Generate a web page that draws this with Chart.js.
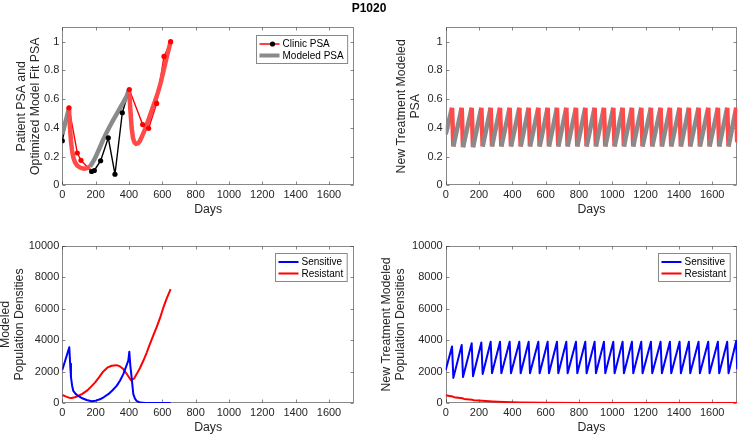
<!DOCTYPE html>
<html><head><meta charset="utf-8">
<script src="https://cdn.jsdelivr.net/npm/chart.js@4"></script>
<style>
body{margin:0;background:#fff;width:738px;height:435px;overflow:hidden;position:relative;font-family:"Liberation Sans",Arial,Helvetica,sans-serif}
#title{position:absolute;left:0;width:738px;top:1px;text-align:center;font-weight:bold;font-size:12px;line-height:14px;color:#000;z-index:5}
.cv{position:absolute}
</style></head><body>
<div id="title">P1020</div>
<canvas class="cv" id="c1" width="369" height="218" style="left:0;top:0"></canvas>
<canvas class="cv" id="c2" width="369" height="218" style="left:369px;top:0"></canvas>
<canvas class="cv" id="c3" width="369" height="217" style="left:0;top:218px"></canvas>
<canvas class="cv" id="c4" width="369" height="217" style="left:369px;top:218px"></canvas>
<script>
// ---------- DATA ----------
// Top-left: clinic PSA measurements
const clinicDays = [0, 40, 90, 112, 176, 192, 230, 276, 316, 360, 402, 482, 518, 566, 610, 650];
const clinicPSA  = [0.31, 0.54, 0.225, 0.174, 0.096, 0.103, 0.171, 0.331, 0.077, 0.505, 0.667, 0.423, 0.397, 0.570, 0.897, 1.0];
const clinicOnTreatment = [0, 1, 1, 1, 0, 0, 0, 0, 0, 0, 1, 1, 1, 1, 1, 1];
// Top-left: modeled PSA fit
const modelDays = [0, 10, 20, 30, 40, 46, 52, 58, 66, 76, 90, 106, 120, 136, 150, 166, 176, 190, 206, 226, 246, 266, 286, 306, 326, 346, 366, 386, 400, 404, 410, 416, 424, 432, 442, 454, 466, 480, 496, 512, 526, 542, 556, 572, 586, 606, 626, 650];
const modelPSA  = [0.355, 0.40, 0.445, 0.49, 0.54, 0.40, 0.31, 0.245, 0.195, 0.16, 0.137, 0.124, 0.118, 0.116, 0.12, 0.13, 0.148, 0.175, 0.213, 0.265, 0.319, 0.368, 0.413, 0.455, 0.495, 0.537, 0.577, 0.62, 0.665, 0.60, 0.50, 0.40, 0.33, 0.30, 0.288, 0.292, 0.31, 0.345, 0.39, 0.44, 0.485, 0.54, 0.585, 0.64, 0.695, 0.79, 0.89, 1.0];
const patientTreatment = [[40, 170], [400, 650]];

// Top-right / bottom-right: new treatment schedule (peak / trough vertices)
const newDays = [0, 38, 46, 96, 104, 156, 164, 214, 222, 270, 278, 326, 334, 384, 392, 442, 450, 498, 506, 556, 564, 612, 620, 668, 676, 724, 732, 782, 790, 838, 846, 894, 902, 950, 958, 1006, 1014, 1062, 1070, 1118, 1126, 1174, 1182, 1232, 1240, 1290, 1298, 1346, 1354, 1404, 1412, 1460, 1468, 1518, 1526, 1576, 1584, 1634, 1642, 1690, 1698, 1744, 1750];
const newPSA  = [0.355, 0.54, 0.27, 0.54, 0.265, 0.54, 0.265, 0.54, 0.27, 0.54, 0.27, 0.54, 0.27, 0.54, 0.27, 0.54, 0.27, 0.54, 0.27, 0.54, 0.27, 0.54, 0.27, 0.54, 0.27, 0.54, 0.27, 0.54, 0.27, 0.54, 0.27, 0.54, 0.27, 0.54, 0.27, 0.54, 0.27, 0.54, 0.27, 0.54, 0.27, 0.54, 0.27, 0.54, 0.27, 0.54, 0.27, 0.54, 0.27, 0.54, 0.27, 0.54, 0.27, 0.54, 0.27, 0.54, 0.27, 0.54, 0.27, 0.54, 0.27, 0.54, 0.30];
const newSensitive = [2100, 3600, 1600, 3700, 1650, 3800, 1700, 3850, 1850, 3900, 1900, 3900, 1900, 3900, 1900, 3900, 1900, 3900, 1900, 3900, 1900, 3900, 1900, 3900, 1900, 3900, 1900, 3900, 1900, 3900, 1900, 3900, 1900, 3900, 1900, 3900, 1900, 3900, 1900, 3900, 1900, 3900, 1900, 3900, 1900, 3900, 1900, 3900, 1900, 3900, 1900, 3900, 1900, 3900, 1900, 3900, 1900, 3900, 1900, 3900, 1900, 3950, 2150];
const newResDays = [0, 40, 50, 100, 110, 160, 170, 220, 280, 350, 450, 600, 800, 1000, 1750];
const newResistant = [500, 420, 370, 300, 260, 200, 180, 140, 100, 65, 35, 15, 6, 2, 0];

// Bottom-left: modeled populations during the patient's treatment
const sensDays = [0, 42, 47, 52, 59, 66, 80, 96, 120, 146, 176, 200, 226, 250, 276, 300, 326, 346, 366, 382, 396, 402, 408, 416, 426, 436, 446, 466, 500, 650];
const sensitive = [2100, 3550, 2500, 1650, 1100, 770, 580, 450, 300, 190, 110, 150, 235, 380, 560, 800, 1090, 1420, 1840, 2300, 2700, 3270, 2400, 1620, 560, 280, 130, 25, 0, 0];
const resDays = [0, 20, 40, 56, 75, 96, 120, 146, 170, 196, 220, 246, 270, 296, 326, 346, 366, 390, 412, 430, 446, 466, 486, 506, 526, 546, 566, 586, 606, 626, 650];
const resistant = [510, 420, 340, 320, 370, 450, 580, 770, 1010, 1300, 1630, 2010, 2250, 2370, 2410, 2330, 2160, 1800, 1450, 1550, 1840, 2230, 2690, 3200, 3760, 4300, 4830, 5400, 6070, 6650, 7250];

// Axis ranges / ticks
const dayMax = 1750, dayStep = 200;
const psaMax = 1.1, psaStep = 0.2;
const popMax = 10000, popStep = 2000;

// ---------- STYLE ----------
const FONT = '"Liberation Sans", Arial, Helvetica, sans-serif';
const TXT = '#262626';
const RED = '#ff0000', BLUE = '#0000ff', BLACK = '#000000';
const MRED = '#ff4a4a', MGRAY = '#8a8a8a';
const TICK_SIZE = 11, LABEL_SIZE = 12.3, LEGEND_SIZE = 10;
Chart.defaults.font.family = FONT;
Chart.defaults.color = TXT;

const pts = (xs, ys) => xs.map((d, i) => ({x: d, y: ys[i]}));
const inIntervals = (a, b, iv) => { const m = (a + b) / 2; return iv.some(([s, e]) => m >= s && m <= e); };

const matlab = {
  id: 'matlab',
  beforeDatasetsDraw(chart) {
    const {ctx, chartArea: a, scales: {x, y}} = chart;
    ctx.save();
    ctx.strokeStyle = 'rgba(38,38,38,0.55)';
    ctx.lineWidth = 1;
    const L = Math.round(a.left) + 0.5, R = Math.round(a.right) - 0.5, T = Math.round(a.top) + 0.5, B = Math.round(a.bottom) - 0.5;
    ctx.strokeRect(L, T, R - L, B - T);
    const tl = 3;
    ctx.beginPath();
    x.ticks.forEach(t => { const px = Math.round(x.getPixelForValue(t.value)) + 0.5; ctx.moveTo(px, B); ctx.lineTo(px, B - tl); ctx.moveTo(px, T); ctx.lineTo(px, T + tl); });
    y.ticks.forEach(t => { const py = Math.round(y.getPixelForValue(t.value)) + 0.5; ctx.moveTo(L, py); ctx.lineTo(L + tl, py); ctx.moveTo(R, py); ctx.lineTo(R - tl, py); });
    ctx.stroke();
    ctx.restore();
  },
  afterDraw(chart, args, opts) {
    const items = opts.items;
    if (!items || !items.length) return;
    const {ctx, chartArea: a} = chart;
    ctx.save();
    ctx.font = LEGEND_SIZE + 'px ' + FONT;
    const tw = Math.max(...items.map(it => ctx.measureText(it.label).width));
    const w = 26 + tw + 4, h = 28;
    const bx = Math.round(a.right - opts.dx - w) + 0.5, by = Math.round(a.top + opts.dy) + 0.5;
    ctx.fillStyle = '#fff';
    ctx.fillRect(bx, by, w, h);
    ctx.strokeStyle = 'rgba(38,38,38,0.55)';
    ctx.lineWidth = 1;
    ctx.strokeRect(bx, by, w, h);
    items.forEach((it, i) => {
      const cy = by + 8.5 + i * 11.5;
      ctx.strokeStyle = it.color; ctx.lineWidth = it.width; ctx.lineCap = 'butt';
      ctx.beginPath(); ctx.moveTo(bx + 3, cy); ctx.lineTo(bx + 23, cy); ctx.stroke();
      if (it.marker) { ctx.fillStyle = it.marker; ctx.beginPath(); ctx.arc(bx + 16, cy, 2.6, 0, Math.PI * 2); ctx.fill(); }
      ctx.fillStyle = '#000'; ctx.textBaseline = 'middle'; ctx.textAlign = 'left';
      ctx.fillText(it.label, bx + 26, cy + 0.5);
    });
    ctx.restore();
  }
};

function makeChart(id, cfg) {
  const cv = document.getElementById(id);
  const W = cv.width, H = cv.height;
  return new Chart(cv, {
    type: 'line',
    data: {datasets: cfg.datasets},
    plugins: [matlab],
    options: {
      responsive: false, animation: false, events: [],
      layout: {padding: {top: cfg.area.top, right: W - cfg.area.right, left: 0, bottom: 0}},
      plugins: {legend: {display: false}, tooltip: {enabled: false}, matlab: cfg.legend || {}},
      elements: {point: {radius: 0}, line: {tension: 0, borderJoinStyle: 'round', borderCapStyle: 'butt'}},
      scales: {
        x: {
          type: 'linear', min: 0, max: dayMax,
          grid: {display: false, drawTicks: false}, border: {display: false},
          ticks: {stepSize: dayStep, includeBounds: false, maxRotation: 0, autoSkip: false, padding: 3, font: {size: TICK_SIZE}, color: TXT, callback: v => String(v)},
          title: {display: true, text: 'Days', font: {size: LABEL_SIZE, lineHeight: '14px'}, color: TXT, padding: {top: 0, bottom: cfg.xTitlePad}},
          afterFit: s => { s.height = H - cfg.area.bottom; }
        },
        y: {
          type: 'linear', min: 0, max: cfg.yMax,
          grid: {display: false, drawTicks: false}, border: {display: false},
          ticks: {stepSize: cfg.yStep, includeBounds: false, padding: 3, font: {size: TICK_SIZE}, color: TXT, callback: cfg.yFmt},
          title: {display: true, text: cfg.yTitle, font: {size: LABEL_SIZE, lineHeight: '14px'}, color: TXT, padding: {top: cfg.yTitlePad, bottom: 0}},
          afterFit: s => { s.width = cfg.area.left; }
        }
      }
    }
  });
}

const psaFmt = v => String(+v.toFixed(1));
const popFmt = v => String(Math.round(v));
const clinicPts = pts(clinicDays, clinicPSA);
const clinicColors = clinicOnTreatment.map(f => f ? RED : BLACK);

makeChart('c1', {
  area: {left: 62.3, top: 27.3, right: 354, bottom: 185.3},
  yMax: psaMax, yStep: psaStep, yFmt: psaFmt,
  yTitle: ['Patient PSA and', 'Optimized Model Fit PSA'], yTitlePad: 15, xTitlePad: 1,
  legend: {dx: 7.3, dy: 7.7, items: [
    {label: 'Clinic PSA', color: RED, width: 1.5, marker: BLACK},
    {label: 'Modeled PSA', color: MGRAY, width: 4}
  ]},
  datasets: [
    {label: 'Clinic PSA markers', order: 0, data: clinicPts, showLine: false,
     pointRadius: 2.6, pointBorderWidth: 0, pointBackgroundColor: clinicColors},
    {label: 'Modeled PSA', order: 1, data: pts(modelDays, modelPSA), borderWidth: 4.5, borderColor: MGRAY,
     segment: {borderColor: c => inIntervals(c.p0.parsed.x, c.p1.parsed.x, patientTreatment) ? MRED : MGRAY}},
    {label: 'Clinic PSA', order: 2, data: clinicPts, borderWidth: 1.4, pointRadius: 0,
     borderColor: BLACK,
     segment: {borderColor: c => clinicOnTreatment[c.p0DataIndex] ? RED : BLACK}}
  ]
});

makeChart('c2', {
  area: {left: 76.7, top: 27.3, right: 368.2, bottom: 185.3},
  yMax: psaMax, yStep: psaStep, yFmt: psaFmt,
  yTitle: ['New Treatment Modeled', 'PSA'], yTitlePad: 26, xTitlePad: 1,
  datasets: [
    {label: 'New Treatment Modeled PSA', data: pts(newDays, newPSA), borderWidth: 4.5, borderColor: MGRAY,
     segment: {borderColor: c => c.p1.parsed.y < c.p0.parsed.y ? MRED : MGRAY}}
  ]
});

makeChart('c3', {
  area: {left: 62.3, top: 28, right: 354, bottom: 185},
  yMax: popMax, yStep: popStep, yFmt: popFmt,
  yTitle: ['Modeled', 'Population Densities'], yTitlePad: -1.5, xTitlePad: 0,
  legend: {dx: 7.3, dy: 7.3, items: [
    {label: 'Sensitive', color: BLUE, width: 2},
    {label: 'Resistant', color: RED, width: 2}
  ]},
  datasets: [
    {label: 'Sensitive', data: pts(sensDays, sensitive), borderWidth: 2, borderColor: BLUE},
    {label: 'Resistant', data: pts(resDays, resistant), borderWidth: 2, borderColor: RED}
  ]
});

makeChart('c4', {
  area: {left: 76.7, top: 28, right: 368.2, bottom: 185},
  yMax: popMax, yStep: popStep, yFmt: popFmt,
  yTitle: ['New Treatment Modeled', 'Population Densities'], yTitlePad: 11, xTitlePad: 0,
  legend: {dx: 7.3, dy: 7.3, items: [
    {label: 'Sensitive', color: BLUE, width: 2},
    {label: 'Resistant', color: RED, width: 2}
  ]},
  datasets: [
    {label: 'Sensitive', data: pts(newDays, newSensitive), borderWidth: 2, borderColor: BLUE},
    {label: 'Resistant', data: pts(newResDays, newResistant), borderWidth: 2, borderColor: RED}
  ]
});
</script>
</body></html>
